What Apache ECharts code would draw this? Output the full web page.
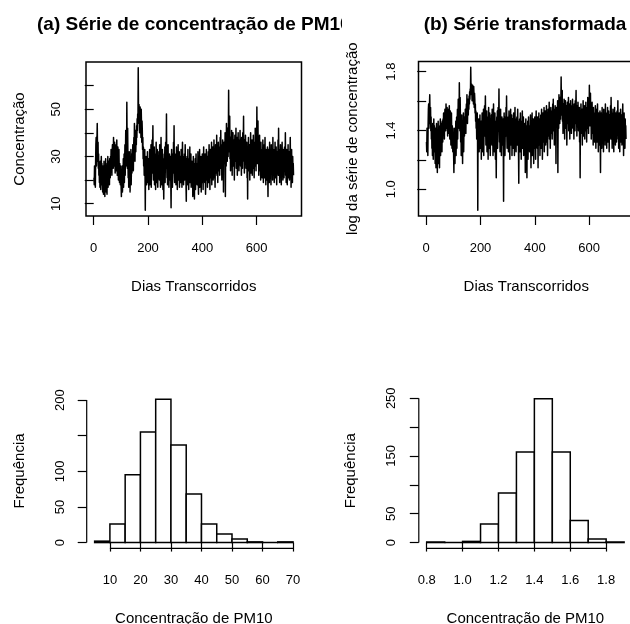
<!DOCTYPE html>
<html><head><meta charset="utf-8">
<script src="https://cdn.jsdelivr.net/npm/echarts@6/dist/echarts.min.js"></script>
<style>html,body{margin:0;padding:0;background:#fff}#c{width:630px;height:624px}</style>
</head><body><div id="c"></div>
<script>
// Daily PM10 concentration series (values read/estimated from the picture)
const pm10 = [
21,18,26,19,24,17,27,35,38,26,30,37,44,33,28,36,25,31,22,27,
19,25,17,28,21,16,24,30,20,27,18,23,15,26,21,14,19,28,16,22,
13,24,18,29,21,15,26,19,14,27,22,30,17,25,20,28,23,18,29,24,
21,30,26,33,24,29,22,31,35,27,32,25,38,29,34,26,36,30,23,33,
28,35,24,31,37,26,22,30,34,25,20,28,33,23,19,27,24,18,26,21,
17,13,22,18,26,15,24,20,29,17,23,31,19,27,35,22,30,41,26,33,
28,53,36,25,42,30,21,27,17,24,32,19,26,15,29,22,33,18,25,28,
23,31,26,35,29,24,33,38,30,44,34,28,37,41,32,39,35,43,38,46,
41,48,44,67.6,50,45,52,47,40,49,51,43,46,38,50,44,36,45,41,33,
38,29,34,26,31,22,28,33,24,7.2,27,20,30,25,18,28,23,32,19,26,
21,29,16,27,24,33,18,26,30,22,35,17,28,25,37,23,31,43,26,20,
29,24,34,18,27,21,31,16,26,36,22,28,19,33,24,17,30,25,21,32,
27,20,35,23,29,17,26,38,22,30,18,27,33,24,16,29,21,12,25,31,
23,34,19,28,36,25,30,48,27,21,32,18,26,35,22,29,17,24,31,20,
27,22,30,19,8.3,26,33,21,28,17,25,31,23,36,27,43,24,19,29,26,
22,31,18,27,34,21,26,16,29,24,35,20,28,23,32,17,25,30,22,27,
19,33,24,28,17,26,36,21,30,25,18,27,23,31,20,26,35,24,29,18,
11,26,22,30,18,25,33,20,27,16,24,29,21,34,19,26,23,31,17,25,
22,28,18,26,13,24,30,20,27,17,12,25,21,29,16,23,31,19,26,22,
18,27,23,32,20,14,26,29,21,33,17,25,28,22,30,15,24,27,19,31,
23,28,16,26,34,21,29,24,19,31,25,14,27,22,33,20,26,30,17,28,
24,32,19,27,35,22,29,16,26,33,21,28,25,36,18,30,23,27,34,20,
29,24,37,21,31,26,17,28,35,23,30,25,39,22,27,33,19,29,36,24,
31,26,34,22,30,38,27,41,25,33,29,20,35,28,37,24,32,15,30,36,
27,34,29,40,13,33,38,26,44,31,36,28,42,35,30,39,58,37,32,45,
47,29,35,24,38,31,27,41,33,22,36,29,40,26,34,30,37,20,32,39,
28,35,31,42,25,33,29,38,22,34,30,40,27,36,24,32,37,28,41,30,
26,35,31,22,38,29,33,25,40,30,36,47,28,34,23,37,31,27,39,33,
25,32,28,36,21,30,12,34,27,38,24,31,29,35,20,33,26,40,30,23,
32,27,37,22,30,35,25,39,28,33,21,31,36,26,42,29,34,24,38,30,
51,33,27,38,45,29,35,22,31,26,39,24,30,34,20,36,28,25,33,21,
30,24,37,27,19,32,25,35,21,28,38,23,29,18,33,26,31,20,27,34,
22,13,28,33,24,30,19,36,26,21,32,27,18,35,25,29,23,31,20,38,
26,22,33,28,19,31,25,36,21,29,24,34,27,18,32,23,30,26,37,22,
42,28,24,33,19,30,26,35,22,29,18,31,27,36,23,28,20,33,25,30,
21,29,34,24,27,40,22,31,19,28,33,25,18,30,26,35,21,28,24,32,
20,27,31,38,23,29,17,26,33,22,28,19,30,24,27,22
];
// (b) transformed series = log10 of the concentration
const logPm10 = pm10.map(v => Math.log10(v));

const seriesXTicks = [0, 200, 400, 600];
const concYTicks = [10, 20, 30, 40, 50, 60];
const concYLabels = [10, 30, 50];
const logYTicks = [1.0, 1.2, 1.4, 1.6, 1.8];
const logYLabels = [1.0, 1.4, 1.8];

// Histogram of concentration
const histBreaks = [5,10,15,20,25,30,35,40,45,50,55,60,65,70];
const histCounts = [2,26,95,155,201,137,68,26,12,5,1,0,1];
const histXTicks = [10,20,30,40,50,60,70];
const histYTicks = [0,50,100,150,200];
const histYLabels = [0,50,100,200];

// Histogram of log concentration
const logBreaks = [0.8,0.9,1.0,1.1,1.2,1.3,1.4,1.5,1.6,1.7,1.8,1.9];
const logCounts = [1,0,2,32,86,157,249,157,38,6,1];
const logXTicks = [0.8,1.0,1.2,1.4,1.6,1.8];
const logHistYTicks = [0,50,100,150,200,250];
const logHistYLabels = [0,50,150,250];

const FONT = '"Liberation Sans", Arial, sans-serif';
function ext(lo, hi) { const d = (hi - lo) * 0.04; return [lo - d, hi + d]; }
const n = pm10.length;
const xRange = ext(1, n);
const concRange = ext(Math.min(...pm10), Math.max(...pm10));
const logRange = ext(Math.min(...logPm10), Math.max(...logPm10));
const histXRange = ext(histBreaks[0], histBreaks[histBreaks.length - 1]);
const histYRange = ext(0, Math.max(...histCounts));
const logXRange = ext(logBreaks[0], logBreaks[logBreaks.length - 1]);
const logYRange = ext(0, Math.max(...logCounts));

const TICKLEN = 9;
function axis(kind, gi, range, ticks, labels, fmt, name, gap, margin) {
  const o = {
    type: 'value', gridIndex: gi, min: range[0], max: range[1],
    axisLine: { show: false }, splitLine: { show: false },
    axisTick: { show: true, customValues: ticks, length: TICKLEN, inside: false,
      lineStyle: { color: '#000', width: 1.2 } },
    axisLabel: { show: true, customValues: labels, color: '#000', fontSize: 13,
      fontFamily: FONT, margin: margin, formatter: fmt },
    name: name, nameLocation: 'middle', nameGap: gap,
    nameTextStyle: { color: '#000', fontSize: 15, fontFamily: FONT }
  };
  if (kind === 'y') o.axisLabel.rotate = 90;
  return o;
}
const f0 = v => String(Math.round(v));
const f1 = v => v.toFixed(1);

function histData(breaks, counts) {
  return counts.map((c, i) => [breaks[i], breaks[i + 1], c]);
}
function histRender(params, api) {
  const p0 = api.coord([api.value(0), 0]);
  const p1 = api.coord([api.value(1), api.value(2)]);
  return {
    type: 'rect',
    shape: { x: p0[0], y: p1[1], width: p1[0] - p0[0], height: p0[1] - p1[1] },
    style: { fill: '#fff', stroke: '#000', lineWidth: 1.5 }
  };
}
// Time series drawn as one unsimplified polyline through the axis scales
function seriesRenderer(values) {
  return function (params, api) {
    if (params.dataIndex !== 0) return null;
    const pts = values.map((v, i) => api.coord([i + 1, v]));
    return { type: 'polyline', shape: { points: pts },
      style: { stroke: '#000', lineWidth: 1.5, fill: null, lineJoin: 'round' } };
  };
}

const chart = echarts.init(document.getElementById('c'), null, { renderer: 'canvas' });
const gridBase = { containLabel: false, outerBoundsMode: 'none' };
chart.setOption({
  animation: false,
  backgroundColor: '#fff',
  grid: [
    Object.assign({ left: 86, top: 62, width: 215.5, height: 154, show: true, borderColor: '#000', borderWidth: 1.5, backgroundColor: 'transparent' }, gridBase),
    Object.assign({ left: 418.5, top: 61.5, width: 215.5, height: 154.5, show: true, borderColor: '#000', borderWidth: 1.5, backgroundColor: 'transparent' }, gridBase),
    Object.assign({ left: 86.7, top: 393.6, width: 214.3, height: 154.7 }, gridBase),
    Object.assign({ left: 418.8, top: 393.1, width: 213.2, height: 155.2 }, gridBase)
  ],
  xAxis: [
    axis('x', 0, xRange, seriesXTicks, seriesXTicks, f0, 'Dias Transcorridos', 63, 26),
    axis('x', 1, xRange, seriesXTicks, seriesXTicks, f0, 'Dias Transcorridos', 63, 26),
    axis('x', 2, histXRange, histXTicks, histXTicks, f0, 'Concentração de PM10', 63, 26),
    axis('x', 3, logXRange, logXTicks, logXTicks, f1, 'Concentração de PM10', 63, 26)
  ],
  yAxis: [
    axis('y', 0, concRange, concYTicks, concYLabels, f0, 'Concentração', 59, 23),
    axis('y', 1, logRange, logYTicks, logYLabels, f1, 'log da série de concentração', 58, 21),
    axis('y', 2, histYRange, histYTicks, histYLabels, f0, 'Frequência', 59, 20),
    axis('y', 3, logYRange, logHistYTicks, logHistYLabels, f0, 'Frequência', 60, 21)
  ],
  series: [
    { type: 'custom', xAxisIndex: 0, yAxisIndex: 0, data: pm10.map((v, i) => [i + 1, v]),
      renderItem: seriesRenderer(pm10), encode: { x: 0, y: 1 }, silent: true, clip: true },
    { type: 'custom', xAxisIndex: 1, yAxisIndex: 1, data: logPm10.map((v, i) => [i + 1, v]),
      renderItem: seriesRenderer(logPm10), encode: { x: 0, y: 1 }, silent: true, clip: true },
    { type: 'custom', xAxisIndex: 2, yAxisIndex: 2, data: histData(histBreaks, histCounts),
      renderItem: histRender, encode: { x: [0, 1], y: 2 }, silent: true },
    { type: 'custom', xAxisIndex: 3, yAxisIndex: 3, data: histData(logBreaks, logCounts),
      renderItem: histRender, encode: { x: [0, 1], y: 2 }, silent: true }
  ]
});

// R-style axis lines for the histograms (span first..last tick only)
function px(ax, v) { return chart.convertToPixel({ xAxisIndex: ax }, v); }
function py(ax, v) { return chart.convertToPixel({ yAxisIndex: ax }, v); }
const lines = [];
[[2, histXTicks, histYTicks, histXRange, histYRange], [3, logXTicks, logHistYTicks, logXRange, logYRange]].forEach(([k, xt, yt, xr, yr]) => {
  const yb = py(k, yr[0]);
  const xl = px(k, xr[0]);
  lines.push({ type: 'line', shape: { x1: px(k, xt[0]), y1: yb, x2: px(k, xt[xt.length - 1]), y2: yb },
    style: { stroke: '#000', lineWidth: 1.2 }, z: 50 });
  lines.push({ type: 'line', shape: { x1: xl, y1: py(k, yt[0]), x2: xl, y2: py(k, yt[yt.length - 1]) },
    style: { stroke: '#000', lineWidth: 1.2 }, z: 50 });
});
chart.setOption({
  graphic: lines.concat([
    { type: 'text', z: 60, style: { text: '(a) Série de concentração de PM10', x: 193.8, y: 25,
      align: 'center', verticalAlign: 'middle', font: 'bold 19px ' + FONT, fill: '#000' } },
    { type: 'rect', z: 70, shape: { x: 342, y: 0, width: 20, height: 38 }, style: { fill: '#fff' } },
    { type: 'text', z: 60, style: { text: '(b) Série transformada', x: 525, y: 25,
      align: 'center', verticalAlign: 'middle', font: 'bold 19px ' + FONT, fill: '#000' } }
  ])
});
</script>
</body></html>
